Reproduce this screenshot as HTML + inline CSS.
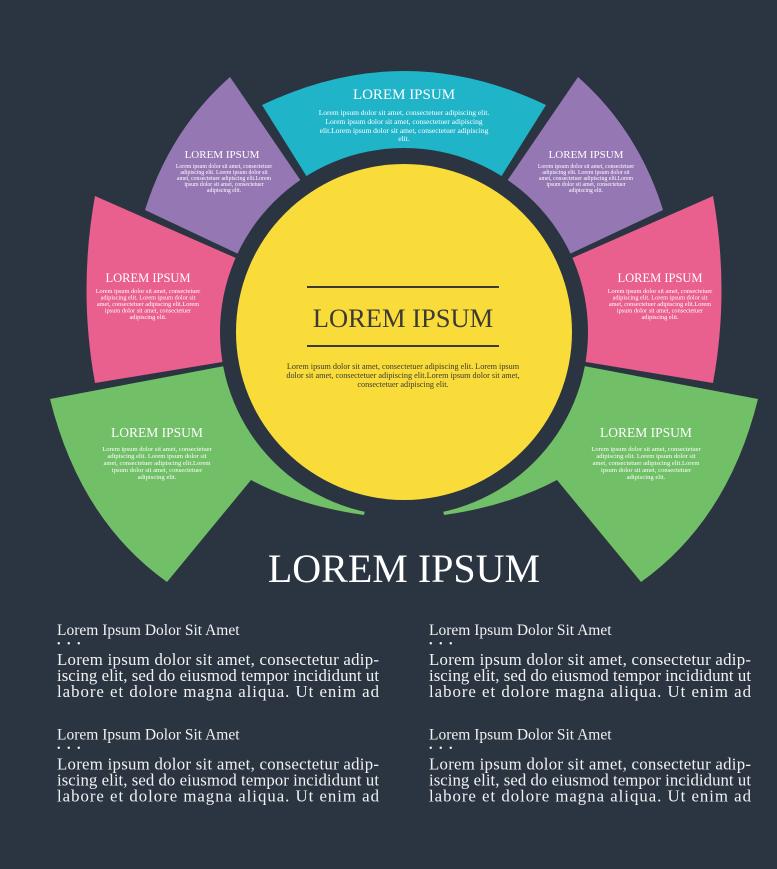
<!DOCTYPE html>
<html><head><meta charset="utf-8"><style>
html,body{margin:0;padding:0;background:#2b3441;}
svg{display:block;}
text{font-family:"Liberation Serif",serif;}
</style></head><body>
<svg width="777" height="869" viewBox="0 0 777 869" xmlns="http://www.w3.org/2000/svg">
<rect width="777" height="869" fill="#2b3441"/>
<defs>
<g id="side">
  <path d="M404,332 L230,77 Q170,130 145,210 Z" fill="#9577b4"/>
  <path d="M404,332 L95,196 Q78,290 95,383 Z" fill="#e95f8e"/>
  <path d="M404,332 L50,399 Q80,520 167,582 L251,480 Q300,506 364,515 Z" fill="#71bf67"/>
</g>
</defs>
<use href="#side"/>
<use href="#side" transform="translate(808,0) scale(-1,1)"/>
<path d="M404,332 L262,105 Q404,37 546,105 Z" fill="#1fb4c8"/>
<circle cx="404" cy="332" r="184" fill="#2b3441"/>
<circle cx="404" cy="332" r="168" fill="#f9dc3a"/>

<g fill="#fff" text-anchor="middle">
<text x="404" y="99" font-size="15">LOREM IPSUM</text>
<text x="404" y="115" font-size="7.5">Lorem ipsum dolor sit amet, consectetuer adipiscing elit.</text>
<text x="404" y="124" font-size="7.5">Lorem ipsum dolor sit amet, consectetuer adipiscing</text>
<text x="404" y="133" font-size="7.5">elit.Lorem ipsum dolor sit amet, consectetuer adipiscing</text>
<text x="404" y="141" font-size="7.5">elit.</text>

<text x="222" y="158" font-size="11">LOREM IPSUM</text>
<g font-size="5.8">
<text x="224" y="168">Lorem ipsum dolor sit amet, consectetuer</text>
<text x="224" y="174">adipiscing elit. Lorem ipsum dolor sit</text>
<text x="224" y="180">amet, consectetuer adipiscing elit.Lorem</text>
<text x="224" y="186">ipsum dolor sit amet, consectetuer</text>
<text x="224" y="192">adipiscing elit.</text>
</g>
<text x="586" y="158" font-size="11">LOREM IPSUM</text>
<g font-size="5.8">
<text x="586" y="168">Lorem ipsum dolor sit amet, consectetuer</text>
<text x="586" y="174">adipiscing elit. Lorem ipsum dolor sit</text>
<text x="586" y="180">amet, consectetuer adipiscing elit.Lorem</text>
<text x="586" y="186">ipsum dolor sit amet, consectetuer</text>
<text x="586" y="192">adipiscing elit.</text>
</g>

<text x="148" y="282" font-size="12.5">LOREM IPSUM</text>
<g font-size="6.3">
<text x="148" y="293">Lorem ipsum dolor sit amet, consectetuer</text>
<text x="148" y="299.5">adipiscing elit. Lorem ipsum dolor sit</text>
<text x="148" y="306">amet, consectetuer adipiscing elit.Lorem</text>
<text x="148" y="312.5">ipsum dolor sit amet, consectetuer</text>
<text x="148" y="319">adipiscing elit.</text>
</g>
<text x="660" y="282" font-size="12.5">LOREM IPSUM</text>
<g font-size="6.3">
<text x="660" y="293">Lorem ipsum dolor sit amet, consectetuer</text>
<text x="660" y="299.5">adipiscing elit. Lorem ipsum dolor sit</text>
<text x="660" y="306">amet, consectetuer adipiscing elit.Lorem</text>
<text x="660" y="312.5">ipsum dolor sit amet, consectetuer</text>
<text x="660" y="319">adipiscing elit.</text>
</g>

<text x="157" y="437" font-size="13.5">LOREM IPSUM</text>
<g font-size="6.6">
<text x="157" y="451">Lorem ipsum dolor sit amet, consectetuer</text>
<text x="157" y="458">adipiscing elit. Lorem ipsum dolor sit</text>
<text x="157" y="465">amet, consectetuer adipiscing elit.Lorem</text>
<text x="157" y="472">ipsum dolor sit amet, consectetuer</text>
<text x="157" y="479">adipiscing elit.</text>
</g>
<text x="646" y="437" font-size="13.5">LOREM IPSUM</text>
<g font-size="6.6">
<text x="646" y="451">Lorem ipsum dolor sit amet, consectetuer</text>
<text x="646" y="458">adipiscing elit. Lorem ipsum dolor sit</text>
<text x="646" y="465">amet, consectetuer adipiscing elit.Lorem</text>
<text x="646" y="472">ipsum dolor sit amet, consectetuer</text>
<text x="646" y="479">adipiscing elit.</text>
</g>
</g>

<rect x="307" y="286" width="192" height="2" fill="#3b3a36"/>
<rect x="307" y="345" width="192" height="2" fill="#3b3a36"/>
<g fill="#3b3a36" text-anchor="middle">
<text x="403" y="327" font-size="26.5">LOREM IPSUM</text>
<g font-size="8.2">
<text x="403" y="369">Lorem ipsum dolor sit amet, consectetuer adipiscing elit. Lorem ipsum</text>
<text x="403" y="378">dolor sit amet, consectetuer adipiscing elit.Lorem ipsum dolor sit amet,</text>
<text x="403" y="387">consectetuer adipiscing elit.</text>
</g>
</g>

<text x="404" y="582" font-size="40" fill="#fff" text-anchor="middle">LOREM IPSUM</text>

<g fill="#f2f2f2" font-size="16.8">
<g id="blk">
<text x="57" y="635" font-size="15.5">Lorem Ipsum Dolor Sit Amet</text>
<text x="57" y="647" font-size="10" letter-spacing="2">• • •</text>
<text x="57" y="665" textLength="322" lengthAdjust="spacing">Lorem ipsum dolor sit amet, consectetur adip-</text>
<text x="57" y="681" textLength="322" lengthAdjust="spacing">iscing elit, sed do eiusmod tempor incididunt ut</text>
<text x="57" y="697" textLength="322" lengthAdjust="spacing">labore et dolore magna aliqua. Ut enim ad</text>
</g>
<use href="#blk" transform="translate(372,0)"/>
<use href="#blk" transform="translate(0,104.5)"/>
<use href="#blk" transform="translate(372,104.5)"/>
</g>
</svg>
</body></html>
